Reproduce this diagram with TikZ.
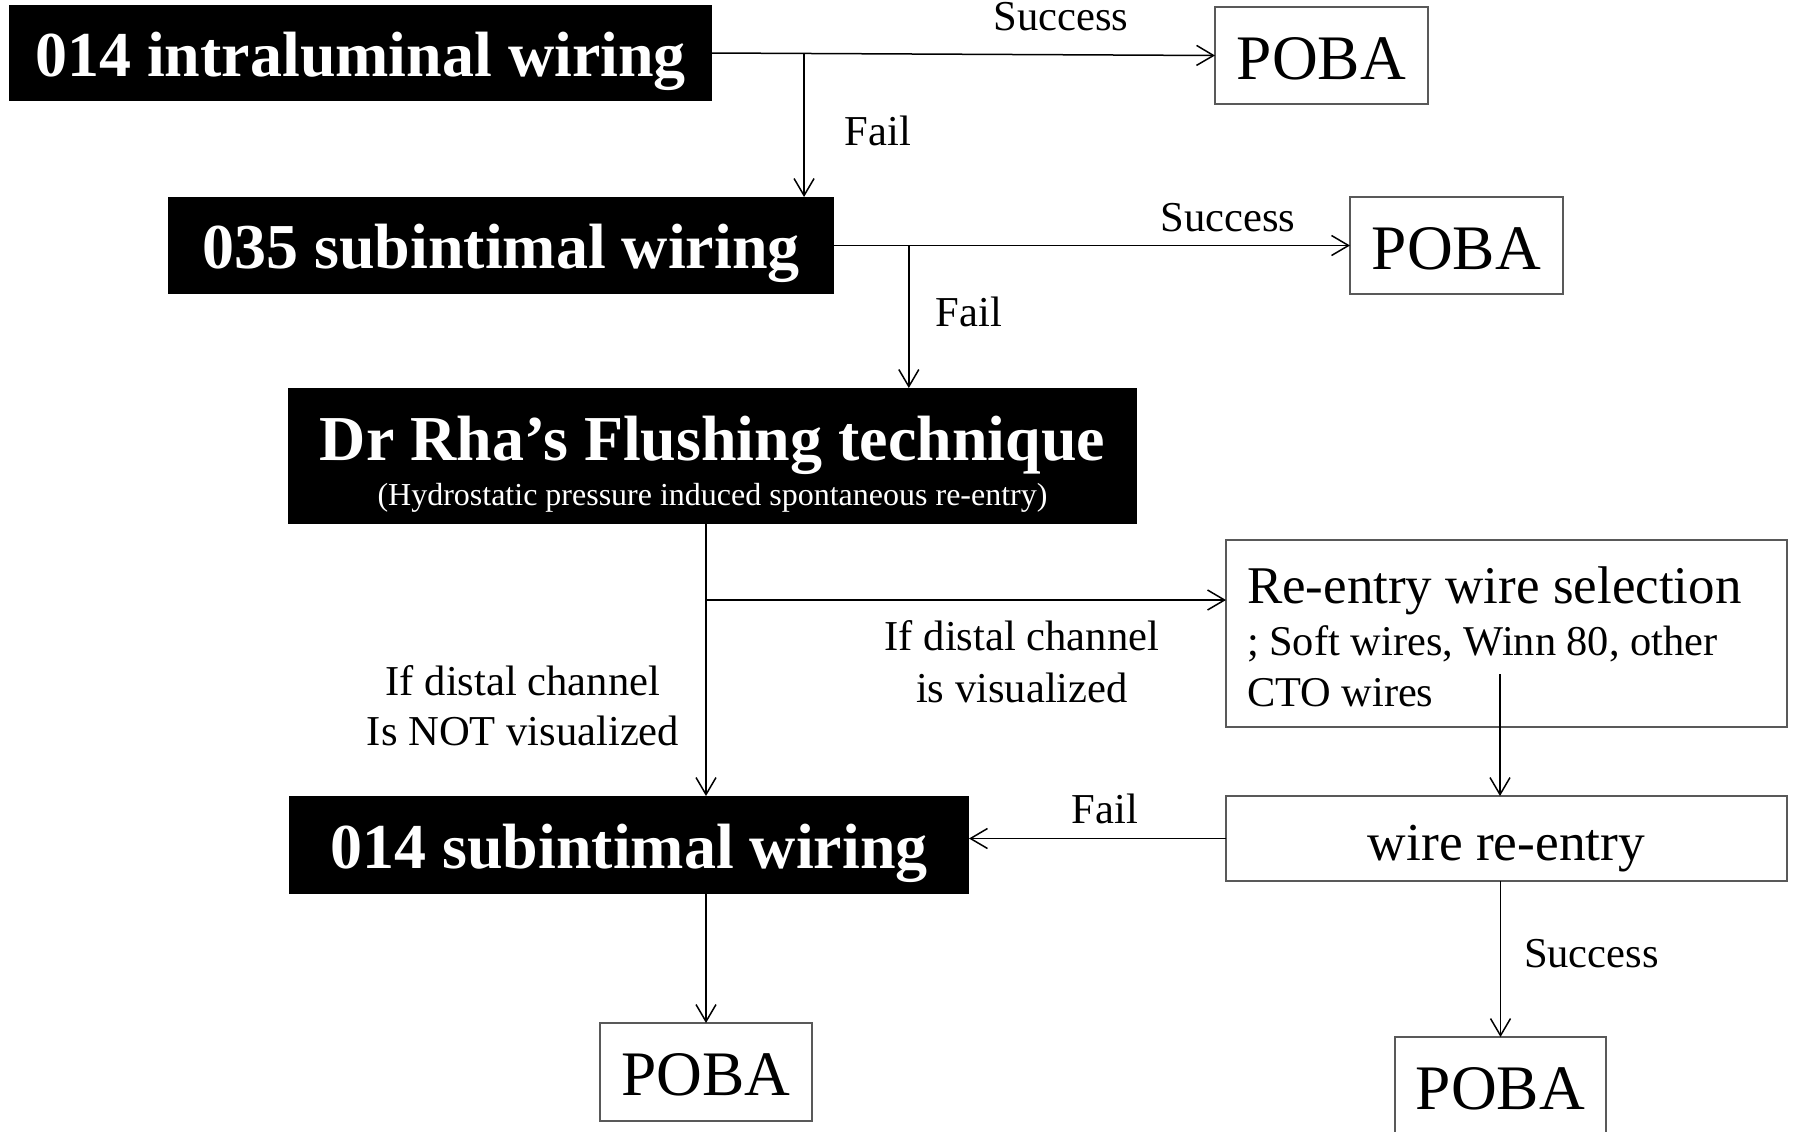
\documentclass[tikz,border=0pt]{standalone}
\usepackage{fontspec}
\setmainfont{Liberation Serif}
\usetikzlibrary{arrows.meta}
\begin{document}
\begin{tikzpicture}[x=0.5pt,y=-0.5pt,
  every node/.style={inner sep=0pt, outer sep=0pt},
  blk/.style={fill=black, text=white, font=\fontsize{32}{38}\selectfont\bfseries, text height=23pt, text depth=0pt},
  wbox/.style={draw=black!65, line width=0.75pt, fill=white},
  poba/.style={wbox, minimum width=106.5pt, minimum height=48.5pt, font=\fontsize{31.7}{38}\selectfont, text height=23.5pt, text depth=0pt},
  lbl/.style={font=\fontsize{21.3}{25}\selectfont, anchor=base},
  conn/.style={line width=0.75pt, -{Straight Barb[length=8.5pt,width=10pt]}}
]
\fill[white] (0,0) rectangle (1795,1131);
\useasboundingbox (0,0) rectangle (1795,1131);

% process boxes
\node[blk, minimum width=351.5pt, minimum height=48pt] (b1) at (360.5,53) {014 intraluminal wiring};
\node[poba] (poba1) at (1321.5,55.5) {POBA};
\node[blk, minimum width=333pt, minimum height=48.5pt] (b2) at (501,245.5) {035 subintimal wiring};
\node[poba] (poba2) at (1456.5,245.5) {POBA};

\node[fill=black, minimum width=424.5pt, minimum height=68pt] (rha) at (712.5,456) {};
\node[anchor=base, text=white, font=\fontsize{32}{38}\selectfont\bfseries] (rhaT) at (712.5,460) {Dr Rha’s Flushing technique};
\node[anchor=base, text=white, font=\fontsize{16}{19}\selectfont] (rhaS) at (712.5,505) {(Hydrostatic pressure induced spontaneous re-entry)};

\node[wbox, minimum width=280.5pt, minimum height=93.5pt] (sel) at (1506.5,633.5) {};
\node[anchor=base west, font=\fontsize{26.5}{31}\selectfont] (selA) at (1247,603) {Re-entry wire selection};
\node[anchor=base west, font=\fontsize{21.2}{25}\selectfont] (selB) at (1247,655) {; Soft wires, Winn 80, other};
\node[anchor=base west, font=\fontsize{21.2}{25}\selectfont] (selC) at (1247,706) {CTO wires};

\node[wbox, minimum width=280.5pt, minimum height=42.5pt, font=\fontsize{26.7}{31}\selectfont, text height=21.5pt, text depth=0pt] (wire) at (1506.5,838.5) {wire re-entry};
\node[blk, minimum width=340pt, minimum height=49pt] (b3) at (629,845) {014 subintimal wiring};
\node[poba, minimum width=106pt, minimum height=49pt] (poba3) at (706,1072) {POBA};
\node[poba, minimum width=105.5pt, minimum height=49pt] (poba4) at (1500.5,1086) {POBA};

% connectors
\path (b1.east) -- (poba1.west) coordinate[pos=0.183] (j1);
\draw[conn] (b1.east) -- (poba1.west);
\draw[conn] (j1) -- (j1 |- b2.north);
\path (b2.east) -- (poba2.west) coordinate[pos=0.145] (j2);
\draw[conn] (b2.east) -- (poba2.west);
\draw[conn] (j2) -- (j2 |- rha.north);
\coordinate (j3) at (poba3.north |- rha.south);
\draw[conn] (j3) -- (j3 |- b3.north);
\coordinate (j4) at (706,600);
\draw[conn] (j4) -- (j4 -| sel.west);
\coordinate (k1) at (1500,674);
\draw[conn] (k1) -- (k1 |- wire.north);
\draw[conn] (wire.west) -- (wire.west -| b3.east);
\draw[conn] (poba3.north |- b3.south) -- (poba3.north);
\draw[conn] (poba4.north |- wire.south) -- (poba4.north);

% connector labels
\node[lbl] (s1) at (1061,30) {Success};
\node[lbl] (f1) at (878,145) {Fail};
\node[lbl] (s2) at (1228,231) {Success};
\node[lbl] (f2) at (969,326) {Fail};
\node[lbl] (v1) at (1022,650) {If distal channel};
\node[lbl] (v2) at (1022,702) {is visualized};
\node[lbl] (n1) at (523,695) {If distal channel};
\node[lbl] (n2) at (523,745) {Is NOT visualized};
\node[lbl] (f3) at (1105,823) {Fail};
\node[lbl, anchor=base west] (s4) at (1524,967) {Success};
\end{tikzpicture}
\end{document}
